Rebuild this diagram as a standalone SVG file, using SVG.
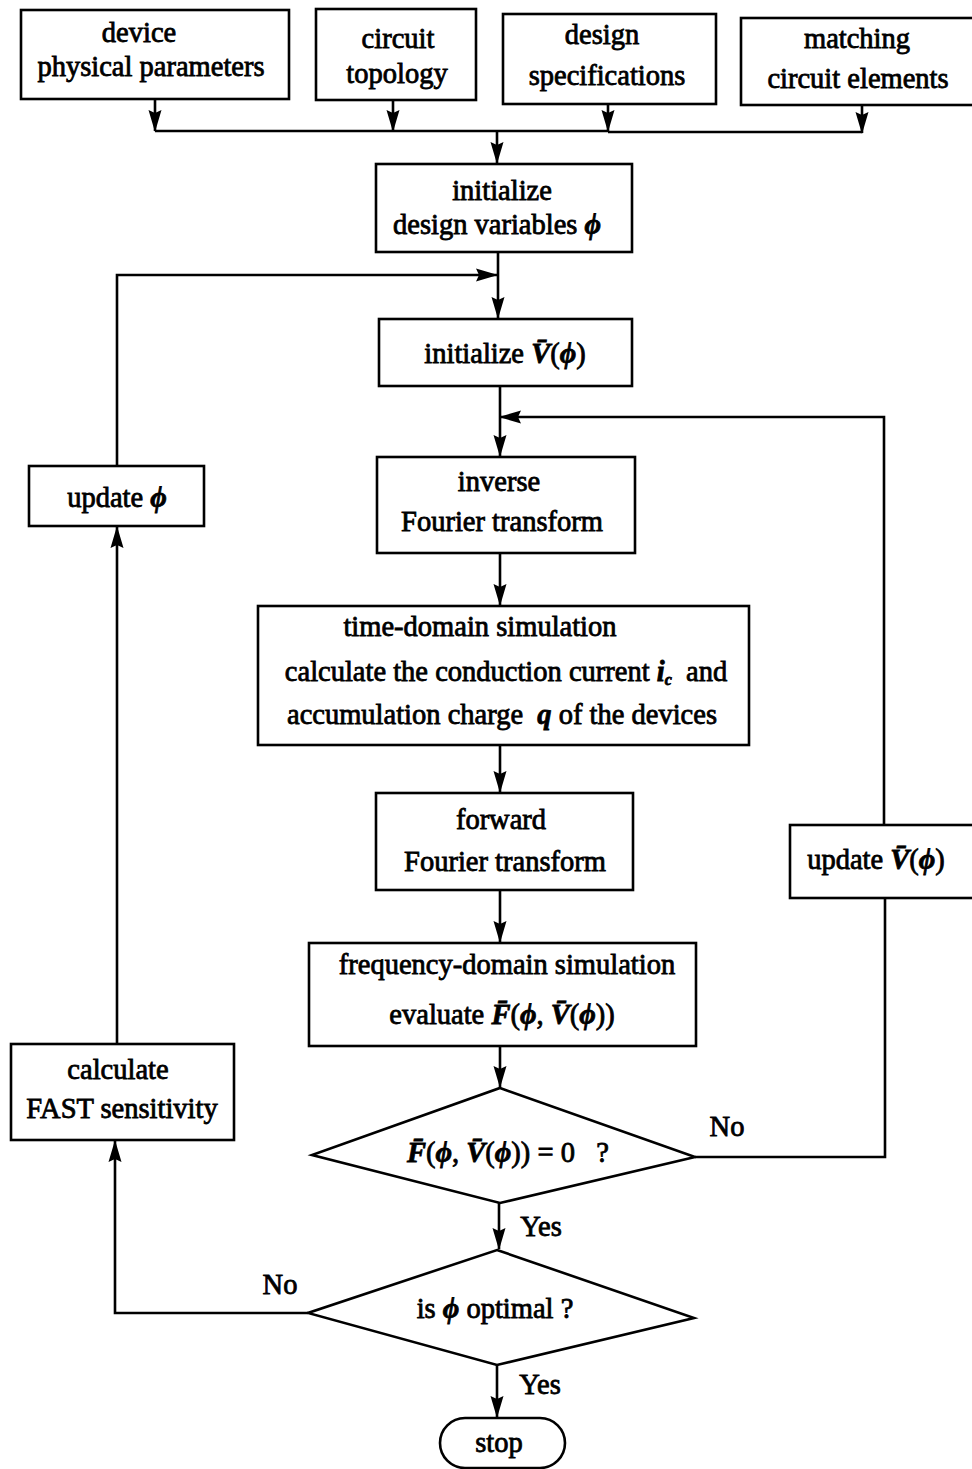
<svg xmlns="http://www.w3.org/2000/svg" width="972" height="1469" viewBox="0 0 972 1469">
<defs>
<marker id="ah" markerUnits="userSpaceOnUse" markerWidth="22" markerHeight="16" refX="21" refY="8" orient="auto">
<path d="M0,1.5 L22,8 L0,14.5 L3,8 z" fill="#000"/>
</marker>
</defs>
<style>
.b{fill:#fff;stroke:#000;stroke-width:2.6}
.t{font-family:"Liberation Serif","Times New Roman",serif;font-size:28.5px;fill:#000;text-anchor:middle;stroke:#000;stroke-width:0.8}
.m{font-style:italic;font-weight:bold}
.c{fill:none;stroke:#000;stroke-width:2.6}
</style>
<rect width="972" height="1469" fill="#fff"/>

<g id="connectors">
<path class="c" d="M155,99 V131" marker-end="url(#ah)"/>
<path class="c" d="M393,100 V131" marker-end="url(#ah)"/>
<path class="c" d="M608,104 V131" marker-end="url(#ah)"/>
<path class="c" d="M862,105 V133" marker-end="url(#ah)"/>
<path class="c" d="M155,131 H608 M608,132 H862"/>
<path class="c" d="M497,132 V163" marker-end="url(#ah)"/>
<path class="c" d="M498,252 V318" marker-end="url(#ah)"/>
<path class="c" d="M117,466 V275 H497" marker-end="url(#ah)"/>
<path class="c" d="M500,386 V456" marker-end="url(#ah)"/>
<path class="c" d="M884,825 V417 H500" marker-end="url(#ah)"/>
<path class="c" d="M500,553 V605" marker-end="url(#ah)"/>
<path class="c" d="M500,745 V792" marker-end="url(#ah)"/>
<path class="c" d="M500,890 V942" marker-end="url(#ah)"/>
<path class="c" d="M500,1046 V1087" marker-end="url(#ah)"/>
<path class="c" d="M695,1157 H885 V898"/>
<path class="c" d="M499,1203 V1249" marker-end="url(#ah)"/>
<path class="c" d="M308,1313 H115 V1141" marker-end="url(#ah)"/>
<path class="c" d="M117,1044 V527" marker-end="url(#ah)"/>
<path class="c" d="M497,1365 V1417" marker-end="url(#ah)"/>
<text class="t" x="727" y="1136">No</text>
<text class="t" x="541" y="1236">Yes</text>
<text class="t" x="280" y="1294">No</text>
<text class="t" x="540" y="1394">Yes</text>
</g>

<g id="device">
<rect class="b" x="21" y="10" width="268" height="89"/>
<text class="t" x="139" y="42">device</text>
<text class="t" x="151" y="76">physical parameters</text>
</g>
<g id="topology">
<rect class="b" x="316" y="9" width="160" height="91"/>
<text class="t" x="398" y="48">circuit</text>
<text class="t" x="397" y="83">topology</text>
</g>
<g id="specs">
<rect class="b" x="503" y="14" width="213" height="90"/>
<text class="t" x="602" y="44">design</text>
<text class="t" x="607" y="85">specifications</text>
</g>
<g id="matching">
<rect class="b" x="741" y="18" width="240" height="87"/>
<text class="t" x="857" y="48">matching</text>
<text class="t" x="858" y="88">circuit elements</text>
</g>
<g id="init-design">
<rect class="b" x="376" y="164" width="256" height="88"/>
<text class="t" x="502" y="200">initialize</text>
<text class="t" x="497" y="234">design variables <tspan class="m">ϕ</tspan></text>
</g>
<g id="init-v">
<rect class="b" x="379" y="319" width="253" height="67"/>
<text class="t" x="505" y="363">initialize <tspan class="m">V̄</tspan>(<tspan class="m">ϕ</tspan>)</text>
</g>
<g id="update-phi">
<rect class="b" x="29" y="466" width="175" height="60"/>
<text class="t" x="117" y="507">update <tspan class="m">ϕ</tspan></text>
</g>
<g id="inverse">
<rect class="b" x="377" y="457" width="258" height="96"/>
<text class="t" x="499" y="491">inverse</text>
<text class="t" x="502" y="531">Fourier transform</text>
</g>
<g id="time-domain">
<rect class="b" x="258" y="606" width="491" height="139"/>
<text class="t" x="480" y="636">time-domain simulation</text>
<text class="t" x="506" y="681">calculate the conduction current <tspan class="m">i</tspan><tspan class="m" font-size="16" dy="4">c</tspan><tspan dy="-4">&#160; and</tspan></text>
<text class="t" x="502" y="724">accumulation charge &#160;<tspan class="m">q</tspan> of the devices</text>
</g>
<g id="forward">
<rect class="b" x="376" y="793" width="257" height="97"/>
<text class="t" x="501" y="829">forward</text>
<text class="t" x="505" y="871">Fourier transform</text>
</g>
<g id="update-v">
<rect class="b" x="790" y="825" width="190" height="73"/>
<text class="t" x="876" y="869">update <tspan class="m">V̄</tspan>(<tspan class="m">ϕ</tspan>)</text>
</g>
<g id="freq-domain">
<rect class="b" x="309" y="943" width="387" height="103"/>
<text class="t" x="507" y="974">frequency-domain simulation</text>
<text class="t" x="502" y="1024">evaluate <tspan class="m">F̄</tspan>(<tspan class="m">ϕ</tspan>, <tspan class="m">V̄</tspan>(<tspan class="m">ϕ</tspan>))</text>
</g>
<g id="fast">
<rect class="b" x="11" y="1044" width="223" height="96"/>
<text class="t" x="118" y="1079">calculate</text>
<text class="t" x="122" y="1118">FAST sensitivity</text>
</g>
<g id="decision-f">
<path class="b" d="M500,1088 L695,1157 L500,1203 L312,1155 z"/>
<text class="t" x="508" y="1162"><tspan class="m">F̄</tspan>(<tspan class="m">ϕ</tspan>, <tspan class="m">V̄</tspan>(<tspan class="m">ϕ</tspan>)) = 0 &#160;&#160;?</text>
</g>
<g id="decision-opt">
<path class="b" d="M497,1250 L694,1318 L497,1365 L308,1313 z"/>
<text class="t" x="495" y="1318">is <tspan class="m">ϕ</tspan> optimal ?</text>
</g>
<g id="stop">
<rect class="b" x="440" y="1418" width="125" height="50" rx="25" ry="25"/>
<text class="t" x="499" y="1452">stop</text>
</g>
</svg>
